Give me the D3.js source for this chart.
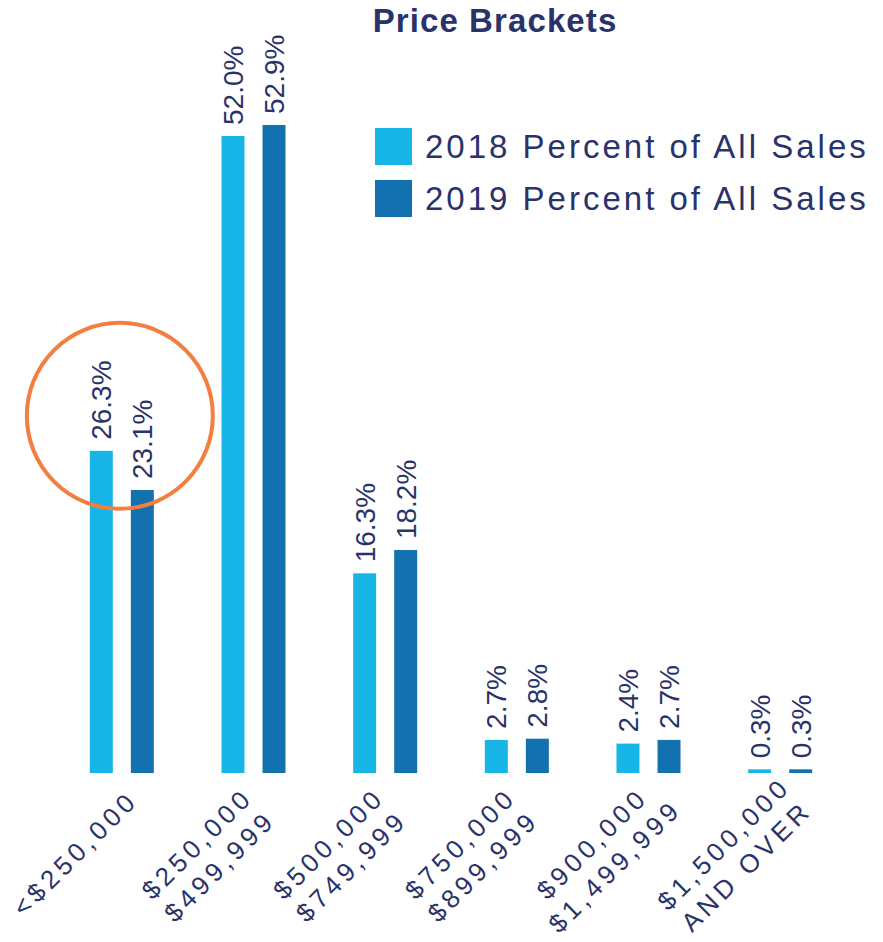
<!DOCTYPE html>
<html>
<head>
<meta charset="utf-8">
<script src="https://cdn.jsdelivr.net/npm/d3@7"></script>
<style>
  body { margin: 0; background: #fff; }
  svg  { display: block; }
</style>
</head>
<body>
<svg id="chart" width="883" height="942"></svg>
<script>
const categories = [
  ['<$250,000'],
  ['$250,000', '$499,999'],
  ['$500,000', '$749,999'],
  ['$750,000', '$899,999'],
  ['$900,000', '$1,499,999'],
  ['$1,500,000', 'AND OVER']
]
const seriesNames = ['2018 Percent of All Sales', '2019 Percent of All Sales']
const values2018  = [26.3, 52.0, 16.3, 2.7, 2.4, 0.3]
const values2019  = [23.1, 52.9, 18.2, 2.8, 2.7, 0.3]
const colors      = ['#18b6e6', '#1271ae']

const
  baseline = 773,
  ink      = '#29336a',
  font     = '"Liberation Sans", Arial, sans-serif'

const svg = d3.select('#chart')

const keys  = categories.map((c, i) => i)
const x0    = d3.scaleBand().domain(keys).range([56, 846]).paddingInner(0).paddingOuter(0)
const x1    = d3.scaleBand().domain([0, 1]).range([-32, 32]).paddingInner(0.44)
const y     = d3.scaleLinear().domain([0, 55]).range([baseline, baseline - 55 * 12.25])
const color = d3.scaleOrdinal().domain([0, 1]).range(colors)

const rows = keys.map(i => ({ i, vals: [values2018[i], values2019[i]] }))

// title
svg.append('text')
  .attr('x', 495)
  .attr('y', 32)
  .attr('text-anchor', 'middle')
  .attr('font-family', font)
  .attr('font-weight', 'bold')
  .attr('font-size', 33)
  .attr('letter-spacing', 1.1)
  .attr('fill', ink)
  .text('Price Brackets')

// bars
const groups = svg.append('g')
  .selectAll('g')
  .data(rows)
  .join('g')
  .attr('transform', d => `translate(${x0(d.i) + x0.bandwidth() / 2},0)`)

groups.selectAll('rect')
  .data(d => d.vals.map((v, s) => ({ v, s })))
  .join('rect')
  .attr('x', d => x1(d.s))
  .attr('y', d => y(d.v))
  .attr('width', x1.bandwidth())
  .attr('height', d => baseline - y(d.v))
  .attr('fill', d => color(d.s))

// value labels, rotated
groups.selectAll('text.val')
  .data(d => d.vals.map((v, s) => ({ v, s })))
  .join('text')
  .attr('class', 'val')
  .attr('transform', d => `translate(${x1(d.s) + x1.bandwidth() / 2 + 10},${y(d.v) - 11}) rotate(-90)`)
  .attr('font-family', font)
  .attr('font-size', 28)
  .attr('fill', ink)
  .text(d => d.v.toFixed(1) + '%')

// x axis labels, rotated -45, lines centred on each other
const xLabels = svg.append('g')
  .selectAll('text')
  .data(rows)
  .join('text')
  .attr('transform', d => `translate(${x0(d.i) + x0.bandwidth() / 2 - 50},850) rotate(-45)`)
  .attr('text-anchor', 'middle')
  .attr('font-family', font)
  .attr('font-size', 26)
  .attr('letter-spacing', 4.5)
  .attr('fill', ink)

xLabels.selectAll('tspan')
  .data(d => categories[d.i].map(t => ({ t, n: categories[d.i].length })))
  .join('tspan')
  .attr('x', 0)
  .attr('y', (d, j) => j * 32 + (2 - d.n) * 14)
  .text(d => d.t)

// legend
const legend = svg.append('g')
  .selectAll('g')
  .data(seriesNames)
  .join('g')
  .attr('transform', (d, i) => `translate(375,${128 + i * 52})`)

legend.append('rect')
  .attr('width', 37)
  .attr('height', 37)
  .attr('fill', (d, i) => colors[i])

legend.append('text')
  .attr('x', 50)
  .attr('y', 30)
  .attr('font-family', font)
  .attr('font-size', 33)
  .attr('letter-spacing', 3)
  .attr('fill', ink)
  .text(d => d)

// highlight circle round the first bracket
svg.append('circle')
  .attr('cx', x0(0) + x0.bandwidth() / 2 - 2)
  .attr('cy', y(values2018[0]) - 35)
  .attr('r', 93)
  .attr('fill', 'none')
  .attr('stroke', '#f47d40')
  .attr('stroke-width', 4)
</script>
</body>
</html>
